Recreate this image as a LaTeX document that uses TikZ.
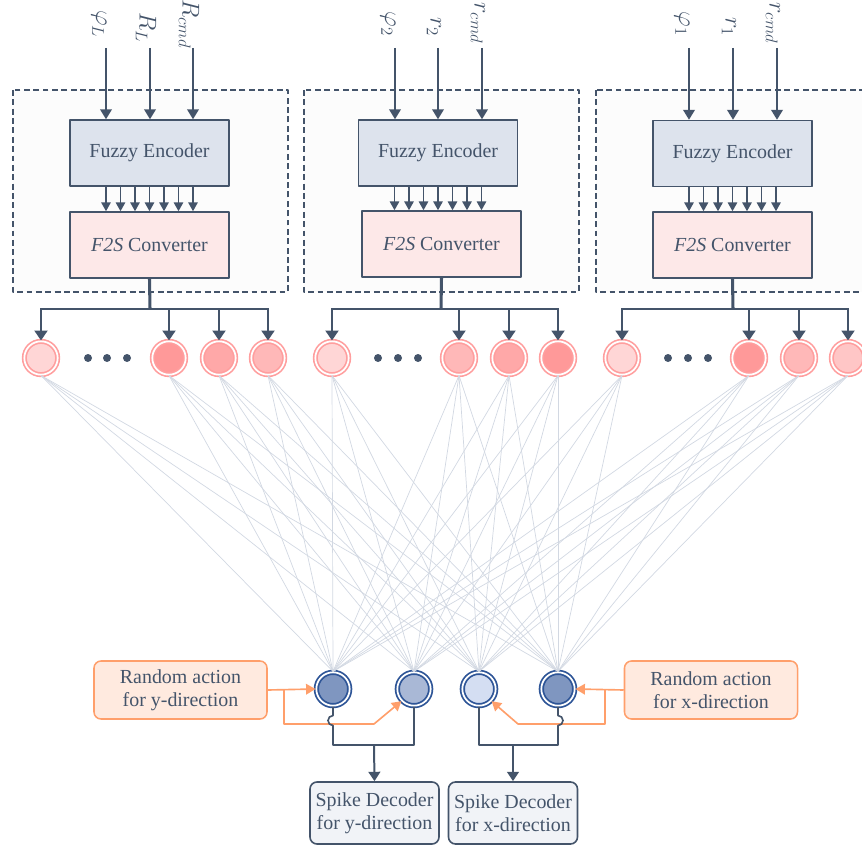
\documentclass[tikz,border=0pt]{standalone}
\usepackage{fontspec}
\setmainfont{Liberation Serif}
\usetikzlibrary{arrows.meta,calc}
\definecolor{slate}{HTML}{44546A}
\definecolor{encfill}{HTML}{DDE3ED}
\definecolor{convfill}{HTML}{FDE8E8}
\definecolor{framefill}{HTML}{FCFCFC}
\definecolor{ring}{HTML}{FF9E9E}
\definecolor{pkA}{HTML}{FFD6D6}
\definecolor{pkB}{HTML}{FFC6C6}
\definecolor{pkC}{HTML}{FFB8B8}
\definecolor{pkD}{HTML}{FFA8A8}
\definecolor{pkE}{HTML}{FF9999}
\definecolor{bring}{HTML}{2E5597}
\definecolor{blA}{HTML}{7F96C0}
\definecolor{blB}{HTML}{A9B8D6}
\definecolor{blC}{HTML}{D4DEF2}
\definecolor{syncol}{HTML}{D2D8E2}
\definecolor{orng}{HTML}{FF9F6B}
\definecolor{actfill}{HTML}{FFEADF}
\definecolor{decfill}{HTML}{F1F3F7}
\tikzset{
    txt/.style={font=\fontsize{17}{20}\selectfont, text=slate},
    inlab/.style={txt, font=\fontsize{20}{24}\selectfont, rotate=-90, inner sep=0pt},
    blockenc/.style={txt, draw=slate, line width=1.3pt, fill=encfill,
        minimum width=4.77cm, minimum height=1.98cm, inner sep=0pt},
    blockconv/.style={blockenc, fill=convfill},
    frame/.style={draw=slate, line width=1.2pt, fill=framefill,
        dash pattern=on 5pt off 3pt},
    inarrow/.style={draw=slate, line width=1.4pt,
        -{Triangle[length=8.5pt,width=10pt]}},
    smallarrow/.style={draw=slate, line width=1.3pt,
        -{Triangle[length=7.5pt,width=8pt]}},
    stub/.style={draw=slate, line width=2.6pt},
    busarrow/.style={draw=slate, line width=1.9pt, line join=miter,
        -{Triangle[length=8.5pt,width=11pt]}},
    neuron/.style={circle, minimum size=1cm, inner sep=0pt, draw=ring,
        line width=1.4pt, double=white, double distance=1.5pt},
    outneuron/.style={neuron, draw=bring, line width=1.5pt},
    syn/.style={draw=syncol, line width=0.6pt},
    actbox/.style={txt, align=center, draw=orng, fill=actfill, line width=1.3pt,
        rounded corners=6pt, minimum width=5.19cm, minimum height=1.74cm,
        inner sep=0pt},
    act/.style={draw=orng, line width=1.4pt,
        -{Triangle[length=8pt,width=9pt]}},
    decbox/.style={txt, align=center, draw=slate, fill=decfill, line width=1.4pt,
        rounded corners=6pt, minimum width=3.87cm, minimum height=1.86cm,
        inner sep=0pt},
    wire/.style={draw=slate, line width=1.4pt},
    wirearrow/.style={wire, line width=1.7pt,
        -{Triangle[length=8pt,width=10pt]}}
}

\begin{document}
\begin{tikzpicture}[x=0.03cm,y=-0.03cm,line join=round]

    \useasboundingbox (0,0) rectangle (862,849);

% --- dashed frames ---
    \draw[frame] ( 13,90) rectangle (288,292);
    \draw[frame] (304,90) rectangle (579,292);
    \draw[frame] (596,90) rectangle (880,292);

% --- encoder / converter blocks ---
    \node[blockenc]  (enc1)  at (149.5,153) {Fuzzy Encoder};
    \node[blockconv] (conv1) at (149.5,245) {\textit{F2S} Converter};
    \node[blockenc]  (enc2)  at (438,153)   {Fuzzy Encoder};
    \node[blockconv] (conv2) at (441.5,244) {\textit{F2S} Converter};
    \node[blockenc]  (enc3)  at (732.5,153.5) {Fuzzy Encoder};
    \node[blockconv] (conv3) at (732.5,245) {\textit{F2S} Converter};

% --- inputs ---
    \coordinate (in1a) at (106,48);
    \coordinate (in1b) at (150,48);
    \coordinate (in1c) at (193,48);
    \coordinate (in2a) at (395,48);
    \coordinate (in2b) at (438,48);
    \coordinate (in2c) at (482,48);
    \coordinate (in3a) at (689,48);
    \coordinate (in3b) at (733,48);
    \coordinate (in3c) at (777,48);

    \node[inlab] (lab1a) at ( 99,24) {$\varphi_L$};
    \node[inlab] (lab1b) at (146,27) {$R_L$};
    \node[inlab] (lab1c) at (189,24) {$R_{cmd}$};
    \node[inlab] (lab2a) at (388,24) {$\varphi_2$};
    \node[inlab] (lab2b) at (434,27) {$r_2$};
    \node[inlab] (lab2c) at (478,23) {$r_{cmd}$};
    \node[inlab] (lab3a) at (682,24) {$\varphi_1$};
    \node[inlab] (lab3b) at (729,27) {$r_1$};
    \node[inlab] (lab3c) at (773,23) {$r_{cmd}$};

    \foreach \p/\b in {in1a/enc1,in1b/enc1,in1c/enc1,
                       in2a/enc2,in2b/enc2,in2c/enc2,
                       in3a/enc3,in3b/enc3,in3c/enc3}
        \draw[inarrow] (\p) -- (\p |- \b.north);

% --- encoder to converter ---
    \foreach \g in {1,2,3}
        \foreach \dx in {-43.5,-29,-14.5,0,14.5,29,43.5}
            \draw[smallarrow] ($(enc\g.south)+(\dx,0)$) -- ($(enc\g.south |- conv\g.north)+(\dx,0)$);

% --- input neurons ---
    \node[neuron, fill=pkA] (n1a) at ( 41,358) {};
    \node[neuron, fill=pkE] (n1b) at (169,358) {};
    \node[neuron, fill=pkD] (n1c) at (219,358) {};
    \node[neuron, fill=pkC] (n1d) at (268,358) {};
    \node[neuron, fill=pkA] (n2a) at (332,358) {};
    \node[neuron, fill=pkC] (n2b) at (459,358) {};
    \node[neuron, fill=pkD] (n2c) at (509,358) {};
    \node[neuron, fill=pkE] (n2d) at (558,358) {};
    \node[neuron, fill=pkA] (n3a) at (622,358) {};
    \node[neuron, fill=pkE] (n3b) at (749,358) {};
    \node[neuron, fill=pkC] (n3c) at (799,358) {};
    \node[neuron, fill=pkB] (n3d) at (848,358) {};

% dots between neurons
    \foreach \x in {88,107,127,378,398,418,668,688,708}
        \fill[slate] (\x,358) circle (4);

% --- converter to neurons ---
    \coordinate (hub1) at (150,309);
    \coordinate (hub2) at (441,309);
    \coordinate (hub3) at (733,309);
    \foreach \g in {1,2,3} {
        \draw[stub] (conv\g.south) -- (hub\g);
        \foreach \k in {a,b,c,d}
            \draw[busarrow] (hub\g) -| (n\g\k.north);
    }

% --- output neurons ---
    \node[outneuron, fill=blA] (o1) at (333,689) {};
    \node[outneuron, fill=blB] (o2) at (414,689) {};
    \node[outneuron, fill=blC] (o3) at (479,689) {};
    \node[outneuron, fill=blA] (o4) at (558,689) {};

% full connections
    \foreach \s in {n1a,n1b,n1c,n1d,n2a,n2b,n2c,n2d,n3a,n3b,n3c,n3d}
        \foreach \t in {o1,o2,o3,o4}
            \draw[syn] (\s.south) -- (\t.north);

% --- random action ---
    \node[actbox] (ry) at (180.5,690) {Random action\\for y-direction};
    \node[actbox] (rx) at (711,690)   {Random action\\for x-direction};

    \coordinate (ryb) at (284,690);
    \coordinate (ryk) at (374,724);
    \coordinate (rxb) at (605,690);
    \coordinate (rxk) at (518,724);

    \draw[act] (ry.east) -- (o1.west);
    \draw[act] (ryb) |- (ryk) -- (o2.224);
    \draw[act] (rx.west) -- (o4.east);
    \draw[act] (rxb) |- (rxk) -- (o3.316);

% --- spike decoders ---
    \node[decbox] (dy) at (374.5,813) {Spike Decoder\\for y-direction};
    \node[decbox] (dx) at (513,813)   {Spike Decoder\\for x-direction};

    \coordinate (yjoin) at (374,745);
    \coordinate (xjoin) at (513,745);

    \draw[wire] (o1.south) -- ++(0,9) arc[start angle=270, end angle=90, radius=5]
        |- (yjoin) -| (o2.south);
    \draw[wire] (o4.south) -- ++(0,9) arc[start angle=-90, end angle=90, radius=5]
        |- (xjoin) -| (o3.south);
    \draw[wirearrow] (yjoin) -- (dy.north);
    \draw[wirearrow] (xjoin) -- (dx.north);

\end{tikzpicture}
\end{document}
